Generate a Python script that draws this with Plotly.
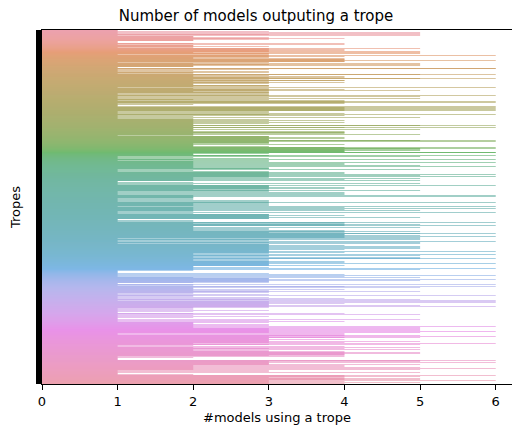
import math, colorsys
import plotly.graph_objects as go

# ---- data: number of models (0-6) outputting each trope, top to bottom ----
counts_a = [1,1, 1,3,1,5, 1,5,3,5,1, 5,2, 2,3,2,3,4,2,3,2, 2,1,1, 1,1,2,4,1,4,2,
            2,3,2,2,1, 5,3,4,3,3,4,3,5, 5,2,3,5,1, 3,6,3,4,3,2,3, 2,4,4,4,6,4,4,4,3,1,
            5,2,5,3,2,5,2,2,1, 1,6,6,3,1, 1,2,3,1,3,2,1]
counts_b = [2,6,5,2,3, 4,2,3,4,5,6,2,3,4, 4,3,2,4,3,2,3,2, 2,3,3,2,3,1,6,2,
            3,4,3,5,3,3,2,3,3, 1,3,1,3,6,3,5,1, 1,3,5,1,2,3,1, 4,6,4,4,6,4,
            1,1,2,1,1,6,1, 4,6,4,6,4,6,4,6,3,1, 1,3,4,1,3,6,1,4,2,1]
counts_c = [1,5,2,1,2, 3,4,2,3,2,2,4,3,2, 2,2,6,5,2,2,4,6,2, 2,2,5,2,2,4,2,4,
            4,2,4,2,5,2,1,3, 3,4,3,4,3,3,3,5,6,3,6,3, 3,2,3,2,4,2,2,3,2,6,
            4,6,5,4,5,4,5,4,4,6, 6,2,3,2,2,3,6,5, 1,2,1,3,1,6,2,1,3]
counts_d = [2,3,6,2,2,4,2,4, 5,2,6,2,3,2,3, 3,5,1,2,1,3,1, 3,4,3,4,3,6,3,5,3,6,3,
            2,5,2,4,2,5,2, 1,1,2,1,1,5,1,2, 6,3,3,3,4,3,4,3,2,3,
            5,3,1,3,4,1,4,1,4,1, 2,6,2,6,2,2,1,2, 1,2,3,1,3,1,3,6,3, 2,3,2,3,2,1,6]
counts_e = [4,2,6,2,2,4,2, 5,1,2,1,6,1,2, 3,3,3,4,3,3,5,3,3,3, 1,1,1,2,1,
            2,6,4,2,4,5,4,6,4, 2,2,5,2,3,2,2, 3,4,2,4,5,3,4,5,6, 4,4,5,4,6,4,5,4,5,
            1,3,5,1,3,6,1,5,3,1,5, 3,3,4,3,3,5,3,5,3, 5,3,4,3,3,6,3,4,3]
counts_f = [2,3,6,2,5,3,2,3, 5,2,6,5,3,2,3,2,4,3,4,3, 6,3,3,3,4,3,2,2,3,2,
            2,6,5,2,2,1,1,1,1,1, 3,1,4,1,6,1,4,1,5,2, 3,3,6,3,3,5,3,3,3,2,
            1,1,2,6,1,2,4,6,2,5, 2,2,4,2,3,2,3,5,3,2, 1,2,3,1,2,6,1,2,3,1]
counts_g = [4,1,5,3,6,1,3,6, 3,6,3,4,3,3,5,3,6,3,3,2, 2,1,2,1,3,1,1,2,1,1,
            2,4,1,5,2,1,3,1,2,1, 1,1,5,1,1,3,1,4,3,2, 2,2,3,2,3,2,6,2,5,2,
            3,5,3,5,3,5,6,3,5,3, 1,4,1,4,5,4,3,6,4,5, 3,3,3,4,3,3,5,3,4,3]
counts_h = [6,2,5,3,1,2,1, 4,2,5,3,4,2,5,3,2,3, 4,5,4,4,5,4,4,4,3,4, 1,2,1,1,1,1,1,
            6,5,3,5,3,6,3,3,5,3, 2,4,2,4,5,2,6,2,5,2, 3,1,3,1,5,1,1,1,2,1,
            4,6,4,5,4,3,4,5,4,5, 6,3,4,3,5,3,4,3]

counts = counts_a + counts_b + counts_c + counts_d + counts_e + counts_f + counts_g + counts_h
tropes = [f"trope {i + 1}" for i in range(len(counts))]
x_ticks = [0, 1, 2, 3, 4, 5, 6]

# ---- seaborn-style husl palette, desaturated 0.75 ----
M = [[3.2406, -1.5372, -0.4986], [-0.9689, 1.8758, 0.0415], [0.0557, -0.2040, 1.0570]]
refU, refV, lab_e, lab_k = 0.19784, 0.46834, 0.008856, 903.3

def max_chroma(L, H):
    hr = math.radians(H); sH, cH = math.sin(hr), math.cos(hr)
    sub1 = (L + 16) ** 3 / 1560896.0
    sub2 = sub1 if sub1 > lab_e else L / lab_k
    res = float("inf")
    for m1, m2, m3 in M:
        top = (0.99915 * m1 + 1.05122 * m2 + 1.14460 * m3) * sub2
        rb = 0.86330 * m3 - 0.17266 * m2
        lb = 0.12949 * m3 - 0.38848 * m1
        bottom = (rb * sH + lb * cH) * sub2
        for t in (0.0, 1.0):
            C = L * (top - 1.05122 * t) / (bottom + 0.17266 * sH * t)
            if 0.0 < C < res:
                res = C
    return res

def f_inv(t):
    return t ** 3 if t ** 3 > lab_e else (116 * t - 16) / lab_k

def from_linear(c):
    return 12.92 * c if c <= 0.0031308 else 1.055 * c ** (1 / 2.4) - 0.055

def husl_to_rgb(H, S, L):
    C = max_chroma(L, H) / 100.0 * S
    hr = math.radians(H)
    U, V = math.cos(hr) * C, math.sin(hr) * C
    varY = f_inv((L + 16) / 116.0)
    varU = U / (13.0 * L) + refU
    varV = V / (13.0 * L) + refV
    Y = varY
    X = 0.0 - (9.0 * Y * varU) / ((varU - 4.0) * varV - varU * varV)
    Z = (9.0 * Y - (15.0 * varV * Y) - (varV * X)) / (3.0 * varV)
    rgb = [from_linear(r[0] * X + r[1] * Y + r[2] * Z) for r in M]
    return [min(max(v, 0.0), 1.0) for v in rgb]

def palette(n, h=0.01, s=0.9, l=0.65, desat=0.75):
    out = []
    for i in range(n):
        hue = ((i / n + h) % 1) * 359
        r, g, b = husl_to_rgb(hue, s * 99, l * 99)
        hh, ll, ss = colorsys.rgb_to_hls(r, g, b)
        r, g, b = colorsys.hls_to_rgb(hh, ll, ss * desat)
        out.append(f"rgb({round(r*255)},{round(g*255)},{round(b*255)})")
    return out

colors = palette(len(counts))
N = len(counts)

fig = go.Figure(go.Bar(
    x=counts, y=tropes, orientation="h",
    marker=dict(color=colors, line=dict(width=0)),
    hoverinfo="x+y",
))

font = "DejaVu Sans, Liberation Sans, sans-serif"
fig.update_layout(
    width=512, height=425,
    margin=dict(l=42, r=0, t=30, b=41),
    paper_bgcolor="white", plot_bgcolor="white",
    bargap=0.2, showlegend=False,
    font=dict(family=font, size=13, color="black"),
    title=dict(text="Number of models outputing a trope", x=0.5, xanchor="center",
               y=0.962, yanchor="middle", font=dict(size=15, color="black")),
    xaxis=dict(range=[0, 6.215], tickmode="array", tickvals=x_ticks,
               ticks="outside", ticklen=5, tickwidth=1, tickcolor="black",
               showline=True, linecolor="black", linewidth=1.1, mirror=True,
               showgrid=False, zeroline=False,
               title=dict(text="#models using a trope", standoff=6, font=dict(size=13)),
               tickfont=dict(size=13)),
    yaxis=dict(type="category", categoryorder="array", categoryarray=tropes,
               range=[N - 0.5, -0.5], tickmode="linear", tick0=0, dtick=1,
               ticks="outside", ticklen=5, tickwidth=1, tickcolor="black",
               showticklabels=False, showline=True, linecolor="black", linewidth=1.1,
               showgrid=False, zeroline=False,
               title=dict(text="Tropes", standoff=12, font=dict(size=13))),
)

html = fig.to_html(include_plotlyjs=True, full_html=True, config={"staticPlot": True})
html = html.replace("<head>", "<head><style>html,body{margin:0;padding:0;overflow:hidden;}</style>", 1)
with open("out.html", "w", encoding="utf-8") as f:
    f.write(html)
